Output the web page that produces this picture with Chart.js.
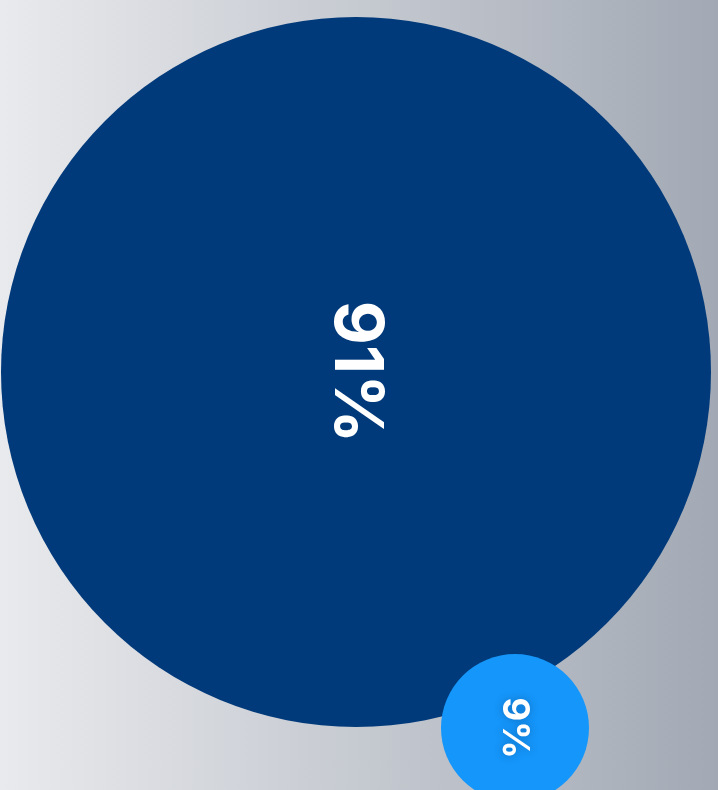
<!DOCTYPE html>
<html lang="en">
<head>
    <meta charset="UTF-8">
    <title>Share</title>
    <script src="https://cdn.jsdelivr.net/npm/chart.js@4.4.1/dist/chart.umd.min.js"></script>
    <style>
        html, body {
            margin: 0;
            padding: 0;
            overflow: hidden;
        }
        body {
            width: 718px;
            height: 790px;
            background: linear-gradient(to right, #e9eaed, #a2a9b4);
        }
        canvas {
            display: block;
        }
    </style>
</head>
<body>
<canvas id="chart" width="718" height="790"></canvas>
<script>
    // values shown in the bubbles
    const labels = ['Major', 'Minor']
    const values = [91, 9]

    // layout of the bubbles (data units of a 718 x 790 plane)
    const centersX = [356, 515]
    const centersY = [372, 728]
    const radii = [355, 74]
    const colors = ['#003a7a', '#1596fa']
    const fontSizes = [68, 37]

    const labelPlugin = {
        id: 'rotatedLabels',
        afterDatasetsDraw(chart) {
            const ctx = chart.ctx
            const meta = chart.getDatasetMeta(0)
            meta.data.forEach((point, i) => {
                ctx.save()
                ctx.translate(point.x, point.y)
                ctx.rotate(Math.PI / 2)
                ctx.font = `700 ${fontSizes[i]}px Inter, "Noto Sans", sans-serif`
                ctx.fillStyle = '#ffffff'
                ctx.textAlign = 'center'
                ctx.textBaseline = 'middle'
                if (i === 1) {
                    ctx.shadowColor = 'rgba(0, 40, 90, 0.35)'
                    ctx.shadowBlur = 8
                }
                ctx.fillText(values[i] + '%', 0, 1)
                ctx.restore()
            })
        }
    }

    let chart = new Chart(document.getElementById('chart').getContext('2d'), {
        type: 'bubble',
        data: {
            labels: labels,
            datasets: [{
                data: values.map((v, i) => ({x: centersX[i], y: centersY[i], r: radii[i], v: v})),
                backgroundColor: colors,
                hoverBackgroundColor: colors,
                borderWidth: 0,
                hoverBorderWidth: 0,
                hoverRadius: 0,
            }],
        },
        options: {
            responsive: false,
            animation: false,
            layout: {
                padding: 0,
                autoPadding: false,
            },
            clip: false,
            scales: {
                x: {
                    type: 'linear',
                    min: 0,
                    max: 718,
                    display: false,
                },
                y: {
                    type: 'linear',
                    min: 0,
                    max: 790,
                    reverse: true,
                    display: false,
                },
            },
            plugins: {
                legend: {display: false},
                tooltip: {enabled: false},
            },
            events: [],
        },
        plugins: [labelPlugin],
    })
</script>
</body>
</html>
